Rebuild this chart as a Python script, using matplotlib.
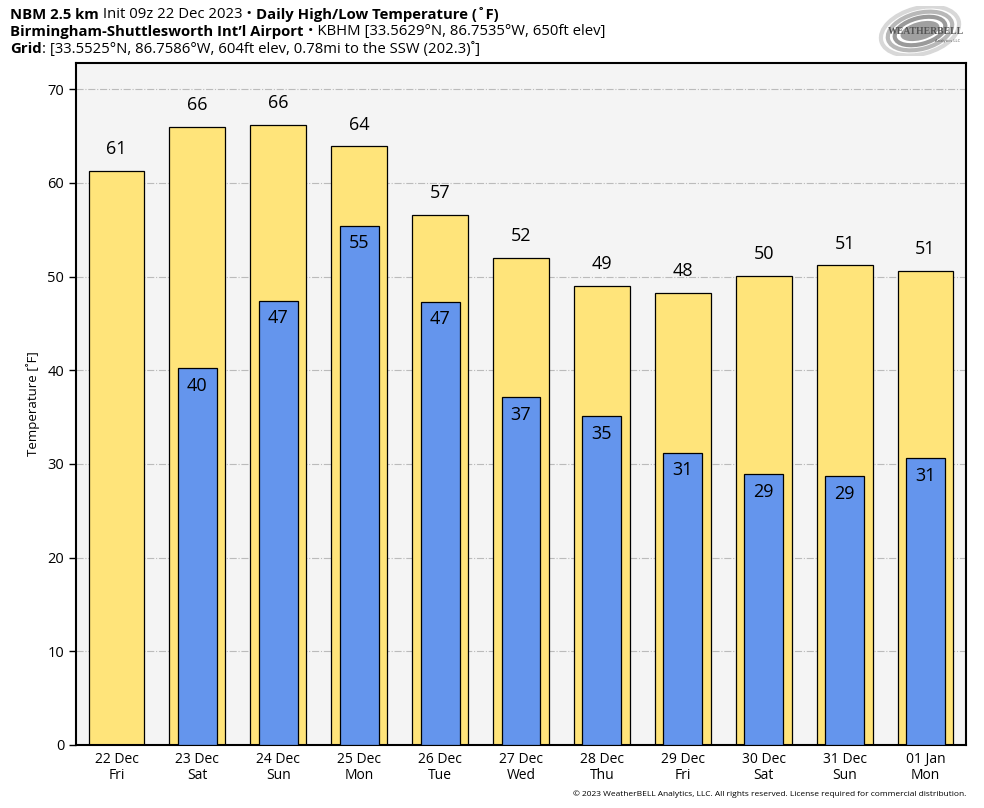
import matplotlib
matplotlib.use("Agg")
import matplotlib.pyplot as plt
import numpy as np
from matplotlib.patches import Ellipse

plt.rcParams['font.family'] = ['Open Sans', 'Noto Sans', 'DejaVu Sans']

# daily values
days = ["22 Dec\nFri", "23 Dec\nSat", "24 Dec\nSun", "25 Dec\nMon", "26 Dec\nTue", "27 Dec\nWed",
        "28 Dec\nThu", "29 Dec\nFri", "30 Dec\nSat", "31 Dec\nSun", "01 Jan\nMon"]
highs = [61.3, 66.0, 66.2, 63.9, 56.6, 52.0, 49.0, 48.3, 50.1, 51.2, 50.6]
lows = [np.nan, 40.2, 47.4, 55.4, 47.3, 37.1, 35.1, 31.2, 28.9, 28.7, 30.6]

HIGH_COLOR = '#ffe47a'
LOW_COLOR = '#6495ed'

fig = plt.figure(figsize=(9.84, 8.08), dpi=100)
ax = fig.add_axes([76/984, 1-745/808, 890/984, 682/808])
ax.set_facecolor('#f4f4f4')

x = np.arange(len(days))
ax.bar(x, highs, width=0.69, color=HIGH_COLOR, edgecolor='black', linewidth=0.9, zorder=2)
low_vals = np.array(lows)
ok = ~np.isnan(low_vals)
ax.bar(x[ok], low_vals[ok], width=0.48, color=LOW_COLOR, edgecolor='black', linewidth=0.9, zorder=3)

for i, h in enumerate(highs):
    ax.text(i, h + 2.3, "%d" % round(h), ha='center', va='center', fontsize=13, zorder=4)
for i, l in enumerate(lows):
    if np.isnan(l):
        continue
    ax.text(i, l - 0.9, "%d" % round(l), ha='center', va='top', fontsize=13, zorder=4)

ax.set_xlim(-0.5, len(days) - 0.5)
ax.set_ylim(0, 72.8)
ax.set_yticks(np.arange(0, 71, 10))
ax.set_xticks(x)
ax.set_xticklabels(days, fontsize=10, linespacing=1.1)
ax.tick_params(axis='y', labelsize=10.5, length=5, width=1)
ax.tick_params(axis='x', length=0, pad=5)
ax.yaxis.grid(True, color='#bbbbbb', linestyle='-.', linewidth=0.8, zorder=0)
ax.set_axisbelow(True)
for s in ax.spines.values():
    s.set_linewidth(1.5)
ax.set_ylabel("Temperature [˚F]", fontsize=9.5, labelpad=5)

# header, mixed bold / regular pieces on each line
fig.canvas.draw()
renderer = fig.canvas.get_renderer()


def header_line(y, pieces):
    xpos = 10
    for txt, weight in pieces:
        t = fig.text(xpos / 984, 1 - y / 808, txt, fontsize=10.7, fontweight=weight, va='center', ha='left')
        bb = t.get_window_extent(renderer)
        xpos += bb.width


header_line(15, [("NBM 2.5 km", 'bold'), (" Init 09z 22 Dec 2023 \u2022 ", 'normal'),
                 ("Daily High/Low Temperature (˚F)", 'bold')])
header_line(32, [("Birmingham-Shuttlesworth Int\u2019l Airport", 'bold'),
                 (" \u2022 KBHM [33.5629°N, 86.7535°W, 650ft elev]", 'normal')])
header_line(49, [("Grid", 'bold'), (": [33.5525°N, 86.7586°W, 604ft elev, 0.78mi to the SSW (202.3)˚]", 'normal')])

# rough logo
lax = fig.add_axes([876/984, 1-56/808, 96/984, 50/808])
lax.set_xlim(0, 96)
lax.set_ylim(0, 50)
lax.axis('off')
for w, hgt, c in [(80, 46, '#d8d8d8'), (66, 36, '#b8b8b8'), (52, 26, '#9a9a9a')]:
    lax.add_patch(Ellipse((44, 25), w, hgt, angle=15, facecolor='none', edgecolor=c, linewidth=3))
lax.add_patch(Ellipse((44, 25), 40, 18, angle=15, facecolor='#a0a0a0', edgecolor='none'))
lax.text(50, 24, "WEATHERBELL", fontsize=7, fontweight='bold', color='#555555', ha='center', va='center',
         family='Liberation Serif')
lax.text(72, 15, "Analytics LLC", fontsize=3, color='#555555', ha='center', va='center')

fig.text(966/984, 1 - 794/808, "© 2023 WeatherBELL Analytics, LLC. All rights reserved. License required for commercial distribution.",
         fontsize=6, ha='right', va='center')

fig.savefig("out.png", dpi=100)
